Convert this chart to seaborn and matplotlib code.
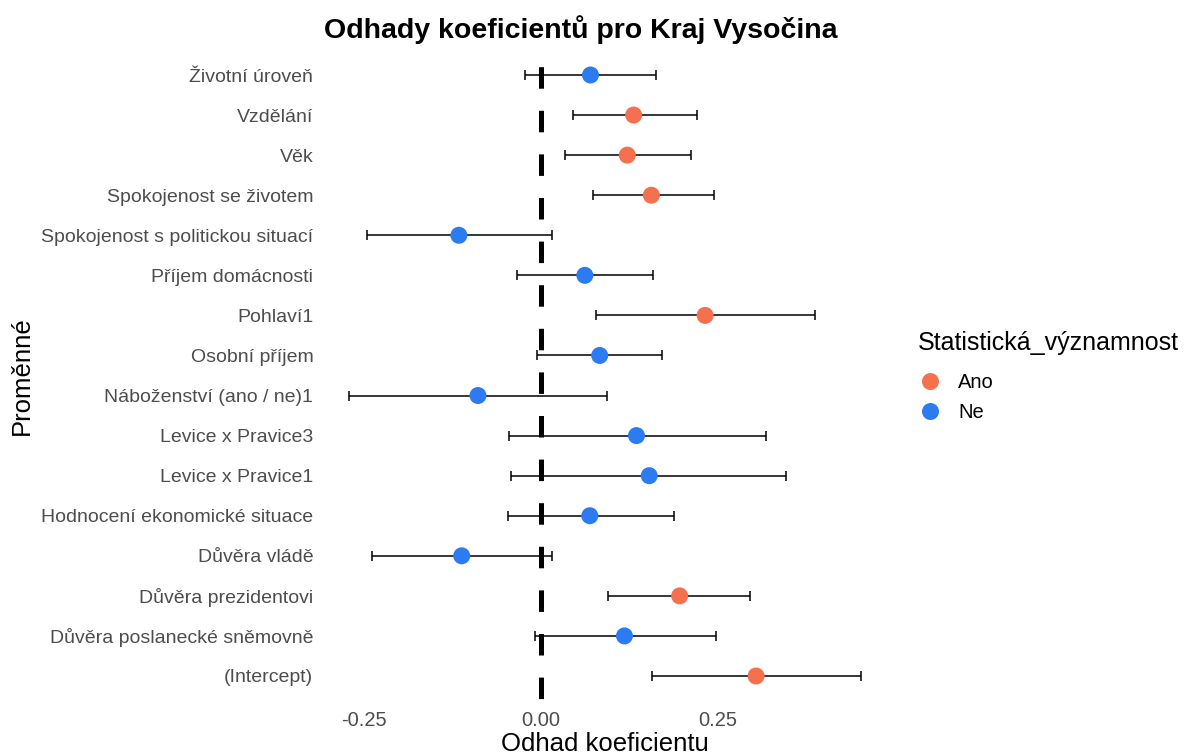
import numpy as np
import pandas as pd
import matplotlib
matplotlib.use('Agg')
import matplotlib.pyplot as plt
import seaborn as sns

sns.set_style('white')
plt.rcParams['font.family'] = ['Liberation Sans', 'DejaVu Sans']
plt.rcParams['text.color'] = 'black'

# data, listed bottom to top as on the y axis
variables = ['(Intercept)', 'Důvěra poslanecké sněmovně', 'Důvěra prezidentovi',
             'Důvěra vládě', 'Hodnocení ekonomické situace', 'Levice x Pravice1',
             'Levice x Pravice3', 'Náboženství (ano / ne)1', 'Osobní příjem',
             'Pohlaví1', 'Příjem domácnosti', 'Spokojenost s politickou situací',
             'Spokojenost se životem', 'Věk', 'Vzdělání', 'Životní úroveň']
estimate = [0.304, 0.118, 0.196, -0.112, 0.069, 0.153, 0.135, -0.089, 0.083,
            0.232, 0.062, -0.116, 0.156, 0.122, 0.131, 0.070]
ci_low = [0.157, -0.008, 0.095, -0.239, -0.047, -0.042, -0.045, -0.272, -0.005,
          0.078, -0.034, -0.246, 0.073, 0.034, 0.045, -0.022]
ci_high = [0.453, 0.248, 0.295, 0.015, 0.188, 0.347, 0.318, 0.094, 0.171,
           0.387, 0.158, 0.015, 0.244, 0.212, 0.221, 0.163]
significance = ['Ano', 'Ne', 'Ano', 'Ne', 'Ne', 'Ne', 'Ne', 'Ne', 'Ne',
                'Ano', 'Ne', 'Ne', 'Ano', 'Ano', 'Ano', 'Ne']

df = pd.DataFrame({'Proměnná': variables, 'Odhad': estimate, 'dolni': ci_low,
                   'horni': ci_high, 'Statistická_významnost': significance})
df['pos'] = np.arange(len(df))

palette = {'Ano': '#F4704F', 'Ne': '#2C7BF2'}
grey = '#4D4D4D'

fig = plt.figure(figsize=(11.85, 7.55), dpi=100)
ax = fig.add_axes([0.2726, 0.0728, 0.4759, 0.8597])

ylo, yhi = -0.6, len(df) - 0.4
# dashed zero line, drawn from the top so the dash pattern lines up
ax.plot([0, 0], [yhi, ylo], color='black', lw=3.6,
        linestyle=(5.58, (4.3, 4.42)), solid_capstyle='butt', zorder=1)
ax.errorbar(df['Odhad'], df['pos'],
            xerr=[df['Odhad'] - df['dolni'], df['horni'] - df['Odhad']],
            fmt='none', ecolor='black', elinewidth=1.1, capsize=3.5,
            capthick=1.1, zorder=2)
sns.scatterplot(data=df, x='Odhad', y='pos', hue='Statistická_významnost',
                hue_order=['Ano', 'Ne'], palette=palette, s=150,
                edgecolor='none', ax=ax, zorder=3)

ax.set_ylim(ylo, yhi)
ax.set_xlim(-0.308, 0.489)
ax.set_yticks(df['pos'])
ax.set_yticklabels(df['Proměnná'])
ax.set_xticks([-0.25, 0.0, 0.25])
ax.set_xticklabels(['-0.25', '0.00', '0.25'])
ax.tick_params(axis='y', length=0, labelsize=14, labelcolor=grey, pad=7)
ax.tick_params(axis='x', length=0, labelsize=14.5, labelcolor=grey, pad=8)
for s in ax.spines.values():
    s.set_visible(False)

ax.set_xlabel('Odhad koeficientu', fontsize=18.5, color='black', labelpad=1.5)
ax.set_ylabel('Proměnné', fontsize=18.5, color='black', labelpad=5)
fig.text(581 / 1185, 1 - 30 / 755, 'Odhady koeficientů pro Kraj Vysočina',
         ha='center', va='center', fontsize=20.5, fontweight='bold',
         color='black')

leg = ax.legend(title='Statistická_významnost', loc='upper left',
                bbox_to_anchor=(1.023, 0.597), frameon=False, fontsize=14.5,
                title_fontsize=18, handlelength=1.2, handletextpad=0.8,
                labelspacing=0.55, markerscale=1.0, alignment='left')
leg.get_title().set_color('black')
leg._legend_box.sep = 13

fig.savefig('out.png', dpi=100)
